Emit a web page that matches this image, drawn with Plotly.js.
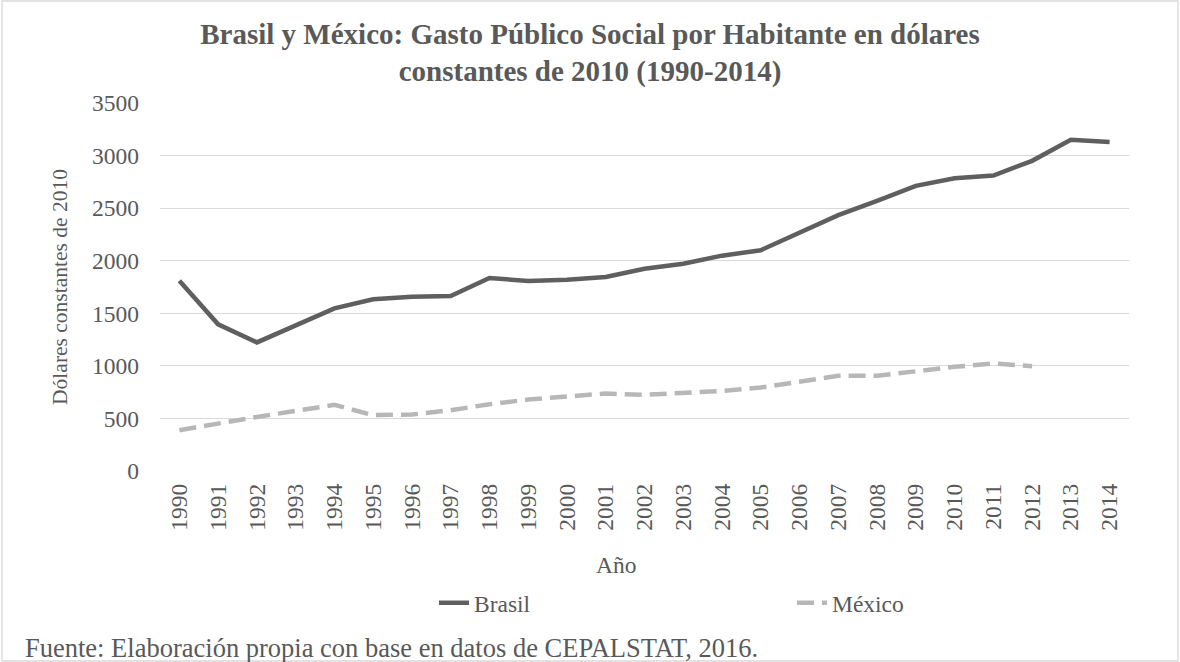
<!DOCTYPE html>
<html>
<head>
<meta charset="utf-8">
<script src="https://cdn.plot.ly/plotly-3.0.1.min.js"></script>
<style>
  html, body { margin: 0; padding: 0; background: #ffffff; }
  #chart { width: 1180px; height: 662px; }
</style>
</head>
<body>
<div id="chart"></div>
<script>
// Data
const years = ["1990","1991","1992","1993","1994","1995","1996","1997","1998","1999",
               "2000","2001","2002","2003","2004","2005","2006","2007","2008","2009",
               "2010","2011","2012","2013","2014"];
const brasil = [1810,1395,1223,1388,1547,1633,1658,1664,1836,1807,
                1820,1845,1924,1972,2048,2100,2261,2433,2569,2712,
                2785,2810,2950,3150,3128];
const mexico = [388,456,514,572,629,531,537,578,635,680,
                712,737,724,740,762,794,845,905,905,950,
                991,1023,997,null,null];
const yTicks = [0,500,1000,1500,2000,2500,3000,3500];

const seriesNames = ["Brasil", "México"];
const titleText = "Brasil y México: Gasto Público Social por Habitante en dólares<br>constantes de 2010 (1990-2014)";
const xTitle = "Año";
const yTitle = "Dólares constantes de 2010";
const sourceText = "Fuente: Elaboración propia con base en datos de CEPALSTAT, 2016.";

const FONT = "Liberation Serif, Times New Roman, serif";
const TXT = "#595959";

const traces = [
  {
    x: years, y: brasil, name: seriesNames[0], type: "scatter", mode: "lines",
    line: { color: "#5f5f5f", width: 4.5 },
    hoverinfo: "x+y+name"
  },
  {
    x: years, y: mexico, name: seriesNames[1], type: "scatter", mode: "lines",
    line: { color: "#b7b7b7", width: 4.5, dash: "17px,8px" },
    connectgaps: false,
    hoverinfo: "x+y+name"
  }
];

const L = 160, R = 1129, T = 103, B = 471;
const pw = R - L, ph = B - T;
const px = v => (v - L) / pw;
const py = v => (B - v) / ph;

const layout = {
  width: 1180, height: 662,
  paper_bgcolor: "#ffffff", plot_bgcolor: "#ffffff",
  margin: { l: L, r: 1180 - R, t: T, b: 662 - B, pad: 0 },
  font: { family: FONT, color: TXT, size: 23 },
  title: {
    text: titleText,
    font: { family: FONT, size: 29, color: TXT, weight: "bold" },
    x: 0.5, xref: "container", xanchor: "center",
    y: 1 - 43.5 / 662, yref: "container", yanchor: "middle"
  },
  xaxis: {
    type: "category",
    range: [-0.5, years.length - 0.5],
    tickangle: -90,
    tickfont: { family: FONT, size: 23.5, color: TXT },
    ticklabelstandoff: 7,
    showgrid: false, zeroline: false, showline: false,
    ticks: "", ticklen: 0,
    automargin: false,
    fixedrange: true
  },
  yaxis: {
    range: [0, 3500],
    tickvals: yTicks,
    ticktext: yTicks.map(String),
    tickfont: { family: FONT, size: 23.5, color: TXT },
    showgrid: true, gridcolor: "#d9d9d9", gridwidth: 1.3,
    zeroline: false, showline: false, ticks: "",
    ticklabelstandoff: 20,
    title: { text: yTitle, font: { family: FONT, size: 21.5, color: TXT }, standoff: 18 },
    automargin: false,
    fixedrange: true
  },
  showlegend: true,
  legend: {
    orientation: "h",
    x: px(434), xanchor: "left",
    y: py(603), yanchor: "middle",
    font: { family: FONT, size: 23.5, color: TXT },
    entrywidth: 313, entrywidthmode: "pixels",
    bgcolor: "rgba(0,0,0,0)", borderwidth: 0,
    traceorder: "normal"
  },
  annotations: [
    {
      text: xTitle, xref: "paper", yref: "paper",
      x: px(616), y: py(565), xanchor: "center", yanchor: "middle",
      showarrow: false, font: { family: FONT, size: 23.5, color: TXT }
    },
    {
      text: sourceText, xref: "paper", yref: "paper",
      x: px(23), y: py(648), xanchor: "left", yanchor: "middle",
      showarrow: false, font: { family: FONT, size: 26.5, color: TXT }
    }
  ],
  shapes: [
    {
      type: "rect", xref: "paper", yref: "paper",
      x0: px(2), x1: px(1178), y0: py(661), y1: py(1),
      line: { color: "#d9d9d9", width: 1.3 }, fillcolor: "rgba(0,0,0,0)",
      layer: "below"
    }
  ]
};

Plotly.newPlot("chart", traces, layout, { displayModeBar: false, staticPlot: false });
</script>
</body>
</html>
